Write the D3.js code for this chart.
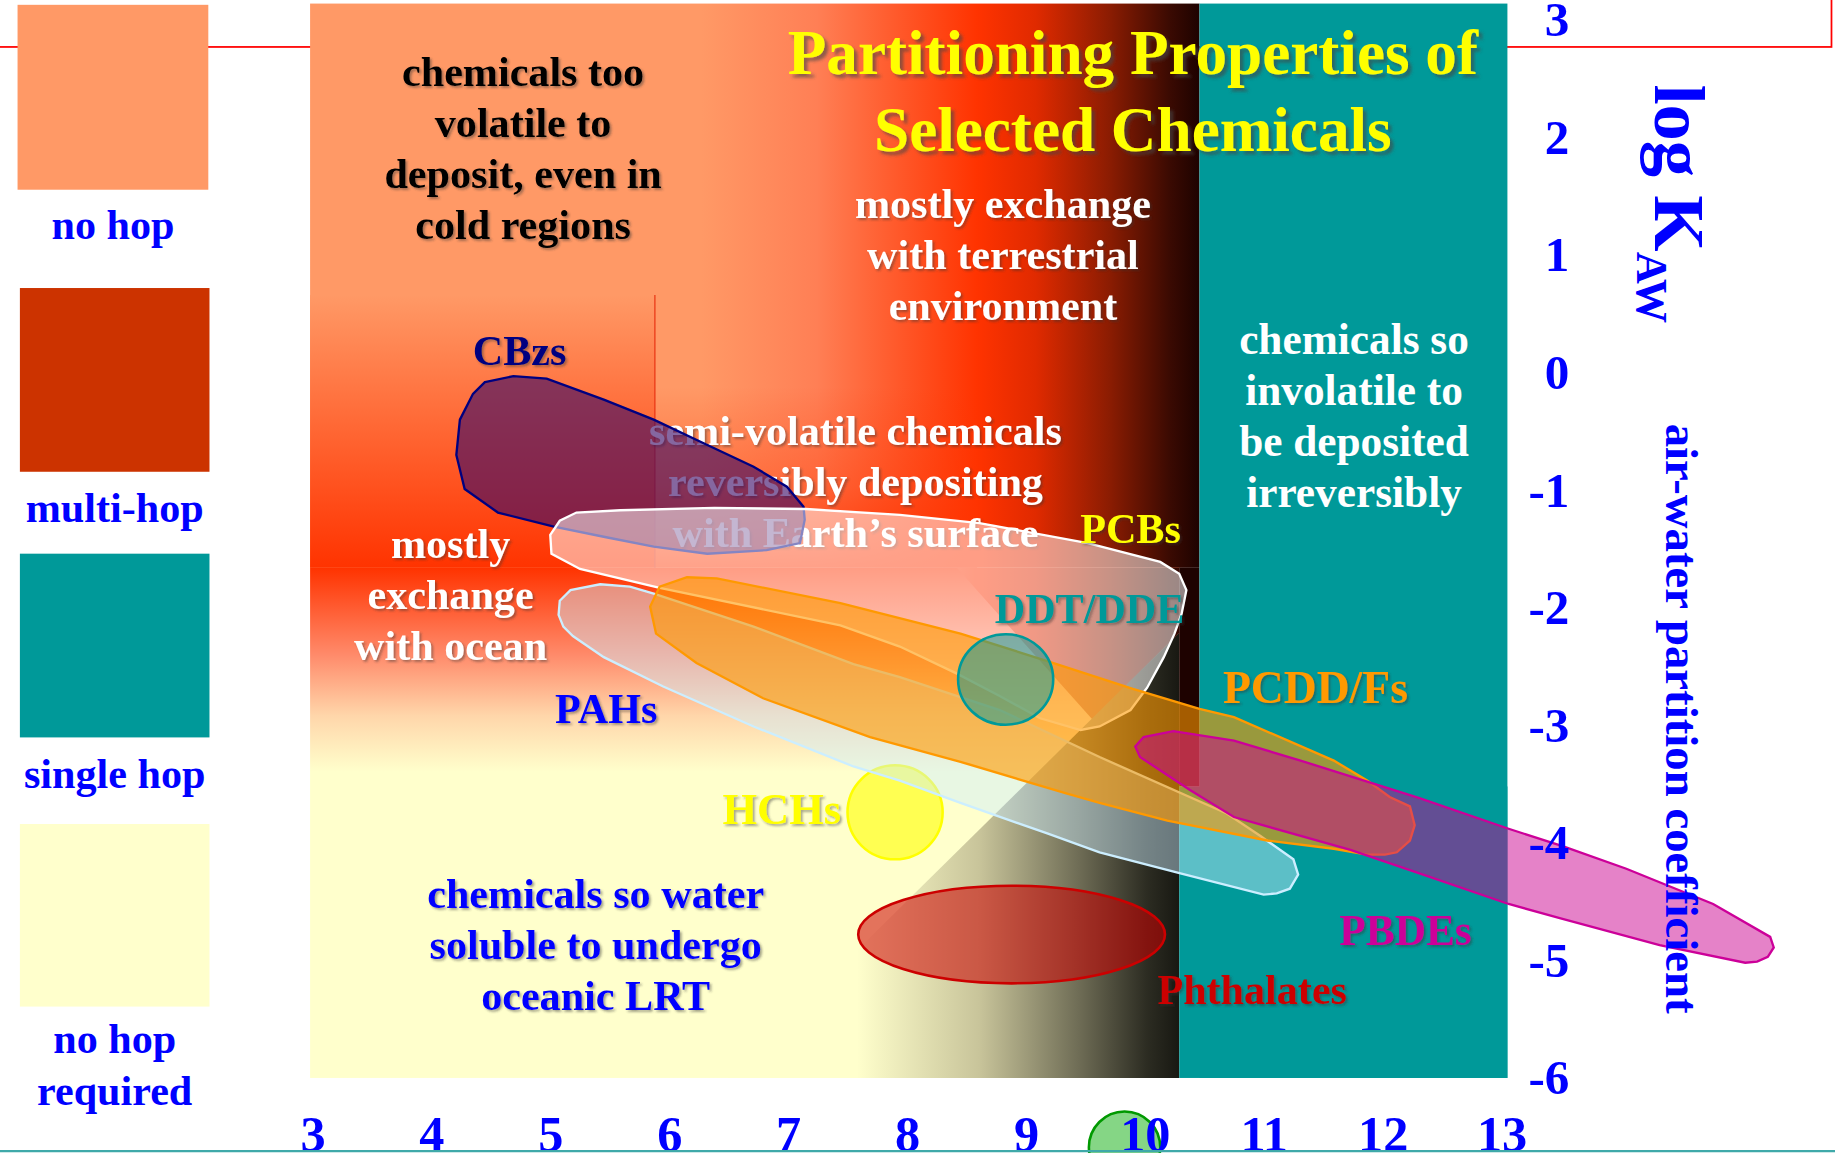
<!DOCTYPE html>
<meta charset="utf-8">
<style>
body { margin: 0; overflow: hidden; background: #fff; }
svg { display: block; }
text { font-family: "Liberation Serif", "Times New Roman", serif; font-weight: bold; }
</style>
<svg width="1835" height="1153" viewBox="0 0 1568 985"></svg>
<script src="https://d3js.org/d3.v7.min.js"></script>
<script>

// axis ticks: x = log KOA, y = log KAW
var xTicks = [3, 4, 5, 6, 7, 8, 9, 10, 11, 12, 13];
var yTicks = [3, 2, 1, 0, -1, -2, -3, -4, -5, -6];

// legend
var legendLabels = [["no hop"], ["multi-hop"], ["single hop"], ["no hop", "required"]];
var legendColors = ["#ff9966", "#cc3300", "#009999", "#ffffcc"];

// background zones [x0, x1, yTop, yBottom] in data units
var zoneTop = [2.98, 10.46, 3.14, -1.66];
var zoneLeft = [2.98, 5.88, 0.66, -1.66];
var zoneMid = [5.88, 8.59, -0.12, -1.66];
var zoneLow = [2.98, 10.29, -1.66, -6.0];
var zoneStrip = [10.29, 10.46, -1.66, -3.52];
var zoneTealTop = [10.46, 13.05, 3.14, -6.0];
var zoneTealLow = [10.29, 13.05, -3.52, -6.0];
var zoneV = [[8.42, -1.66], [10.29, -1.66], [10.29, -2.21], [9.56, -2.95]];
var zoneDark = [[10.29, -2.21], [10.29, -6.0], [6.49, -6.0]];

// chemical class outlines [log KOA, log KAW]
var CBzs = [[4.45,-0.08],[4.69,-0.03],[4.97,-0.05],[5.45,-0.23],[5.87,-0.40],[6.29,-0.60],[6.71,-0.80],
  [6.99,-0.97],[7.13,-1.14],[7.14,-1.25],[7.10,-1.45],[6.82,-1.51],[6.32,-1.54],[5.87,-1.48],[5.47,-1.40],
  [5.03,-1.31],[4.56,-1.19],[4.28,-0.99],[4.21,-0.70],[4.24,-0.40],[4.35,-0.18]];
var PCBs = [[5.00,-1.38],[5.08,-1.26],[5.22,-1.19],[5.59,-1.17],[6.38,-1.15],[7.15,-1.16],[7.94,-1.21],
  [8.61,-1.28],[9.52,-1.45],[10.13,-1.61],[10.29,-1.71],[10.35,-1.85],[10.31,-2.05],[10.25,-2.22],
  [10.16,-2.42],[10.02,-2.68],[9.88,-2.87],[9.62,-3.01],[9.46,-3.04],[9.12,-2.94],[8.78,-2.75],
  [8.42,-2.56],[7.94,-2.33],[7.44,-2.15],[5.92,-1.83],[5.25,-1.67],[5.01,-1.54]];
var PAHs = [[5.08,-1.94],[5.17,-1.85],[5.42,-1.80],[5.67,-1.82],[5.87,-1.88],[6.71,-2.16],[7.55,-2.48],
  [7.94,-2.59],[8.78,-2.87],[9.62,-3.27],[10.69,-3.75],[10.97,-3.94],[11.25,-4.14],[11.29,-4.27],
  [11.22,-4.39],[11.11,-4.43],[11.00,-4.44],[10.30,-4.26],[9.62,-4.08],[9.18,-3.92],[8.45,-3.66],
  [7.94,-3.47],[7.55,-3.35],[6.71,-3.01],[5.95,-2.67],[5.45,-2.42],[5.19,-2.24],[5.11,-2.16],[5.07,-2.06]];
var PCDDFs = [[5.89,-2.22],[5.84,-1.99],[5.92,-1.82],[6.15,-1.74],[6.40,-1.75],[7.44,-1.96],[8.45,-2.22],
  [9.20,-2.46],[9.90,-2.69],[10.46,-2.86],[10.75,-2.93],[11.59,-3.30],[11.87,-3.47],[12.06,-3.61],
  [12.23,-3.69],[12.27,-3.85],[12.23,-3.98],[12.12,-4.08],[12.02,-4.10],[11.87,-4.10],[11.59,-4.05],
  [11.03,-3.98],[10.19,-3.81],[9.62,-3.66],[9.34,-3.58],[8.45,-3.31],[7.69,-3.10],[6.79,-2.77],[6.23,-2.47]];
var PBDEs = [[9.92,-3.18],[9.99,-3.10],[10.24,-3.05],[10.75,-3.13],[11.31,-3.30],[12.31,-3.62],[13.06,-3.88],
  [13.52,-4.03],[14.05,-4.22],[14.78,-4.52],[15.26,-4.80],[15.29,-4.89],[15.24,-4.97],[15.15,-5.01],
  [15.05,-5.02],[14.33,-4.87],[13.49,-4.64],[13.06,-4.52],[12.31,-4.26],[11.73,-4.06],[10.75,-3.78],
  [10.38,-3.55],[9.96,-3.27]];
// ellipses [cx, cy, rx, ry]
var DDT = [8.83, -2.61, 0.40, 0.385];
var HCHs = [7.90, -3.74, 0.40, 0.40];
var Phthalates = [8.88, -4.78, 1.29, 0.415];
var marker10 = [9.83, -6.59, 0.30, 0.305];

var svg = d3.select("svg");
var defs = svg.append("defs");

var x = d3.scaleLinear().domain([3, 13]).range([267, 1283]);
var y = d3.scaleLinear().domain([3, -6]).range([17, 921]);

function linGrad(id, x1, y1, x2, y2, stops) {
  var gr = defs.append("linearGradient").attr("id", id)
    .attr("gradientUnits", "userSpaceOnUse")
    .attr("x1", x1).attr("y1", y1).attr("x2", x2).attr("y2", y2);
  stops.forEach(function(s) {
    gr.append("stop").attr("offset", s[0]).attr("stop-color", s[1])
      .attr("stop-opacity", s[2] === undefined ? 1 : s[2]);
  });
}

linGrad("gTop", x(zoneTop[0]), 0, x(zoneTop[1]), 0, [
  [0, "#ff9966"], [0.44, "#ff9966"], [0.57, "#ff7f55"], [0.75, "#ff3300"],
  [0.816, "#e02a00"], [0.90, "#8a1c02"], [0.967, "#3a0a02"], [1, "#1e0200"]]);
linGrad("gLeft", 0, y(zoneLeft[2]), 0, y(zoneLeft[3]), [[0, "#ff9966"], [1, "#ff3300"]]);
linGrad("gMid", 0, y(zoneMid[2]), 0, y(zoneMid[3]), [[0, "#ff3300", 0], [0.55, "#ff3300", 0.35], [1, "#ff3300", 0.9]]);
linGrad("gLow", 0, y(zoneLow[2]), 0, y(zoneLow[3]), [
  [0, "#ff3300"], [0.17, "#ff8a6a"], [0.29, "#ffd6aa"], [0.40, "#ffffcc"], [1, "#ffffcc"]]);
linGrad("gDark", x(7.58), 0, x(10.29), 0, [
  [0, "#ffffcc"], [0.38, "#c8c49a"], [0.69, "#6e6c55"], [0.9, "#2c2c22"], [1, "#181812"]]);

var f1 = defs.append("filter").attr("id", "shadow").attr("x", "-5%").attr("y", "-10%").attr("width", "115%").attr("height", "130%");
f1.append("feDropShadow").attr("dx", 1.6).attr("dy", 1.6).attr("stdDeviation", 0.9)
  .attr("flood-color", "#333").attr("flood-opacity", 0.45);
var f2 = defs.append("filter").attr("id", "tshadow").attr("x", "-5%").attr("y", "-10%").attr("width", "115%").attr("height", "140%");
f2.append("feDropShadow").attr("dx", 3).attr("dy", 3).attr("stdDeviation", 1.5)
  .attr("flood-color", "#444").attr("flood-opacity", 0.6);

// red frame behind everything
svg.append("rect").attr("x", -5).attr("y", -5).attr("width", 1570).attr("height", 45)
  .attr("fill", "none").attr("stroke", "#ff0000").attr("stroke-width", 1.5);

// legend
var boxes = [[15, 4, 163, 158], [17, 246, 162, 157], [17, 473, 162, 157], [17, 704, 162, 156]];
var labelBase = [204, 446, 673, 900];
legendColors.forEach(function(c, i) {
  var b = boxes[i];
  svg.append("rect").attr("x", b[0]).attr("y", b[1]).attr("width", b[2]).attr("height", b[3]).attr("fill", c);
  var t = svg.append("text").attr("text-anchor", "middle").attr("font-size", 36).attr("fill", "#0000ff");
  legendLabels[i].forEach(function(l, j) {
    t.append("tspan").attr("x", b[0] + b[2] / 2).attr("y", labelBase[i] + j * 44).text(l);
  });
});

// background zones
function rectZone(z, fill) {
  svg.append("rect").attr("x", x(z[0])).attr("y", y(z[2]))
    .attr("width", x(z[1]) - x(z[0])).attr("height", y(z[3]) - y(z[2])).attr("fill", fill);
}
var poly = d3.line().x(function(d) { return x(d[0]); }).y(function(d) { return y(d[1]); }).curve(d3.curveLinearClosed);

rectZone(zoneTop, "url(#gTop)");
rectZone(zoneLeft, "url(#gLeft)");
rectZone(zoneMid, "url(#gMid)");
rectZone(zoneLow, "url(#gLow)");
svg.append("path").attr("d", poly(zoneV)).attr("fill", "url(#gTop)");
svg.append("path").attr("d", poly(zoneDark)).attr("fill", "url(#gDark)");
rectZone(zoneStrip, "#1e0200");
rectZone(zoneTealTop, "#009999");
rectZone(zoneTealLow, "#009999");
svg.append("line").attr("x1", x(zoneLeft[1])).attr("x2", x(zoneLeft[1]))
  .attr("y1", y(zoneLeft[2])).attr("y2", y(zoneLeft[3])).attr("stroke", "#e83010").attr("stroke-width", 1);

// zone descriptions
function textBlock(lines, cx, y0, step, size, fill, weight, filter) {
  var t = svg.append("text").attr("text-anchor", "middle").attr("font-size", size)
    .attr("fill", fill).attr("font-weight", weight);
  if (filter) t.attr("filter", "url(#" + filter + ")");
  lines.forEach(function(l, i) {
    t.append("tspan").attr("x", cx).attr("y", y0 + i * step).text(l);
  });
}
textBlock(["chemicals too", "volatile to", "deposit, even in", "cold regions"], 447, 73, 43.7, 36, "#000", "bold", "shadow");
textBlock(["Partitioning Properties of", "Selected Chemicals"], 968, 63, 66, 54, "#ffff00", "bold", "tshadow");
textBlock(["mostly exchange", "with terrestrial", "environment"], 857, 186, 43.5, 36, "#fff", "bold", "shadow");
textBlock(["chemicals so", "involatile to", "be deposited", "irreversibly"], 1157, 302, 43.7, 37, "#fff", "normal", null);
textBlock(["semi-volatile chemicals", "reversibly depositing", "with Earth\u2019s surface"], 731, 380, 43.5, 36, "#fff", "bold", "shadow");
textBlock(["mostly", "exchange", "with ocean"], 385, 477, 43.5, 36, "#fff", "bold", "shadow");
textBlock(["chemicals so water", "soluble to undergo", "oceanic LRT"], 509, 776, 43.5, 36, "#0000ff", "bold", "shadow");

// chemical classes
function ellipse(e, fill, op, stroke) {
  svg.append("ellipse").attr("cx", x(e[0])).attr("cy", y(e[1]))
    .attr("rx", x(e[0] + e[2]) - x(e[0])).attr("ry", y(e[1] - e[3]) - y(e[1]))
    .attr("fill", fill).attr("fill-opacity", op).attr("stroke", stroke).attr("stroke-width", 2.2);
}
function shape(pts, fill, op, stroke) {
  svg.append("path").attr("d", poly(pts)).attr("fill", fill).attr("fill-opacity", op)
    .attr("stroke", stroke).attr("stroke-width", 2);
}
ellipse(HCHs, "#ffff00", 0.6, "#ffff00");
ellipse(Phthalates, "#cc0000", 0.55, "#cc0000");
shape(CBzs, "#3a0a66", 0.62, "#000080");
shape(PCBs, "#ffffff", 0.52, "#ffffff");
shape(PAHs, "#cceeff", 0.45, "#cceeff");
shape(PCDDFs, "#ff9900", 0.6, "#ff9900");
ellipse(DDT, "#009999", 0.5, "#009999");
shape(PBDEs, "#ca008f", 0.49, "#cc0099");
ellipse(marker10, "#33bb33", 0.6, "#009900");

// chemical labels
var chemLabels = [
  ["CBzs", 444, 312, 36, "#000080"],
  ["PCBs", 966, 464, 36, "#ffff00"],
  ["DDT/DDE", 931, 532, 36, "#009999"],
  ["PAHs", 518, 618, 36, "#0000ff"],
  ["PCDD/Fs", 1124, 601, 39, "#ff9900"],
  ["HCHs", 668, 704, 38, "#ffff00"],
  ["PBDEs", 1201, 807, 37, "#cc0099"],
  ["Phthalates", 1070, 858, 36, "#cc0000"]
];
chemLabels.forEach(function(d) {
  svg.append("text").attr("x", d[1]).attr("y", d[2]).attr("text-anchor", "middle")
    .attr("font-size", d[3]).attr("fill", d[4]).attr("filter", "url(#shadow)").text(d[0]);
});

// axes
var yAxis = svg.append("g").attr("transform", "translate(1341,0)")
  .call(d3.axisRight(y).tickValues(yTicks).tickSize(0).tickFormat(function(d) { return String(d); }));
yAxis.select(".domain").remove();
yAxis.selectAll("text").attr("x", 0).attr("text-anchor", "end").attr("fill", "#0000ff")
  .style("font-size", "42px").style("font-family", "'Liberation Serif', serif").style("font-weight", "bold");

var xAxis = svg.append("g").attr("transform", "translate(0,983)")
  .call(d3.axisBottom(x).tickValues(xTicks).tickSize(0).tickFormat(function(d) { return String(d); }));
xAxis.select(".domain").remove();
xAxis.selectAll("text").attr("y", 0).attr("dy", 0).attr("fill", "#0000ff")
  .style("font-size", "43px").style("font-family", "'Liberation Serif', serif").style("font-weight", "bold");

// axis title
var kaw = svg.append("text").attr("transform", "translate(1414,72) rotate(90)")
  .attr("font-size", 62).attr("fill", "#0000ff");
kaw.append("tspan").text("log K");
kaw.append("tspan").attr("font-size", 38).attr("dy", 15).text("AW");
svg.append("text").attr("transform", "translate(1424,614) rotate(90)").attr("text-anchor", "middle")
  .attr("font-size", 40).attr("fill", "#0000ff").text("air-water partition coefficient");

svg.append("line").attr("x1", 0).attr("x2", 1568).attr("y1", 983.5).attr("y2", 983.5)
  .attr("stroke", "#3fa9a9").attr("stroke-width", 2);

</script>
